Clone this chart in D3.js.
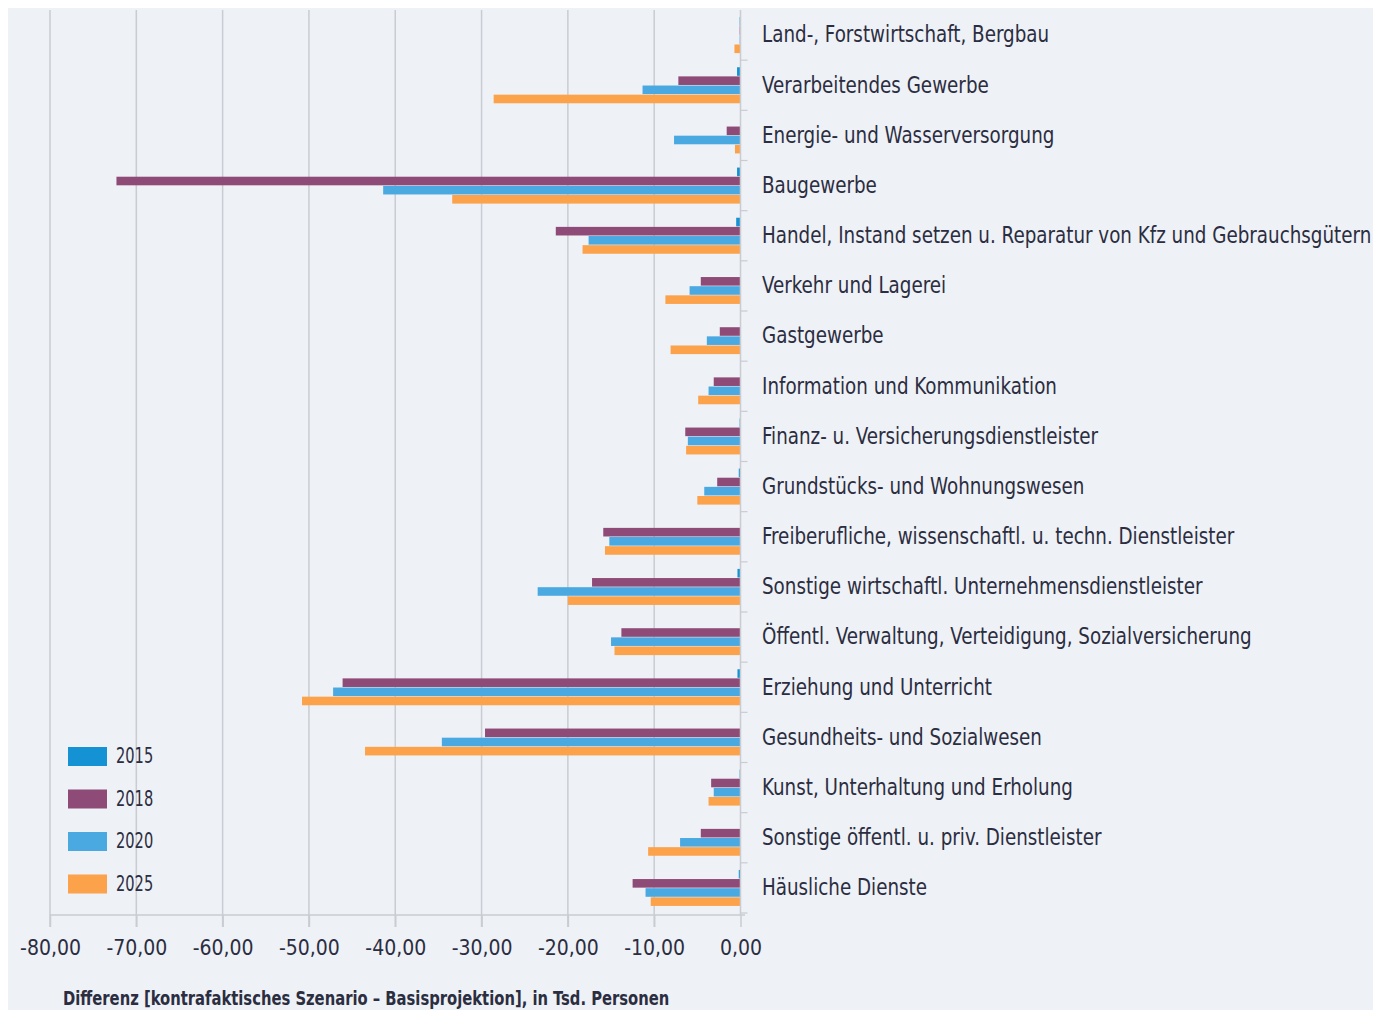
<!DOCTYPE html>
<html>
<head>
<meta charset="utf-8">
<script src="https://cdn.jsdelivr.net/npm/d3@7"></script>
<style>
  html, body { margin: 0; padding: 0; background: #ffffff; }
  svg { display: block; }
  text { font-family: "DejaVu Sans Condensed", "DejaVu Sans", sans-serif; fill: #2b2d40; }
</style>
</head>
<body>
<script>
const categories = [
  "Land-, Forstwirtschaft, Bergbau",
  "Verarbeitendes Gewerbe",
  "Energie- und Wasserversorgung",
  "Baugewerbe",
  "Handel, Instand setzen u. Reparatur von Kfz und Gebrauchsgütern",
  "Verkehr und Lagerei",
  "Gastgewerbe",
  "Information und Kommunikation",
  "Finanz- u. Versicherungsdienstleister",
  "Grundstücks- und Wohnungswesen",
  "Freiberufliche, wissenschaftl. u. techn. Dienstleister",
  "Sonstige wirtschaftl. Unternehmensdienstleister",
  "Öffentl. Verwaltung, Verteidigung, Sozialversicherung",
  "Erziehung und Unterricht",
  "Gesundheits- und Sozialwesen",
  "Kunst, Unterhaltung und Erholung",
  "Sonstige öffentl. u. priv. Dienstleister",
  "Häusliche Dienste"
];
const seriesNames = ["2015", "2018", "2020", "2025"];
const values2015 = [-0.1, -0.4, 0, -0.4, -0.5, 0, 0, 0, -0.1, -0.2, 0, -0.35, 0, -0.35, 0, -0.1, 0, -0.2];
const values2018 = [-0.1, -7.2, -1.6, -72.3, -21.4, -4.6, -2.4, -3.1, -6.4, -2.7, -15.9, -17.2, -13.8, -46.1, -29.6, -3.4, -4.6, -12.5];
const values2020 = [-0.1, -11.35, -7.7, -41.4, -17.6, -5.9, -3.9, -3.7, -6.1, -4.2, -15.2, -23.5, -15.0, -47.2, -34.6, -3.1, -7.0, -11.0];
const values2025 = [-0.7, -28.6, -0.64, -33.4, -18.3, -8.7, -8.1, -4.9, -6.3, -5.0, -15.7, -20.0, -14.6, -50.8, -43.5, -3.7, -10.7, -10.4];
const xTicks = [-80, -70, -60, -50, -40, -30, -20, -10, 0];
const axisTitle = "Differenz [kontrafaktisches Szenario – Basisprojektion], in Tsd. Personen";

const seriesValues = [values2015, values2018, values2020, values2025];
const colors = ["#1592d3", "#8f4b77", "#4ba9e2", "#fba24b"];

const W = 1375, H = 1010;
const svg = d3.select("body").append("svg").attr("width", W).attr("height", H);

// panel background
svg.append("rect").attr("x", 8).attr("y", 8).attr("width", W - 10).attr("height", H - 8).attr("fill", "#eef1f6");

const x = d3.scaleLinear().domain([-80, 0]).range([50, 740.5]);
const y = d3.scaleBand().domain(categories).range([10, 913]).paddingInner(0.26).paddingOuter(0.13);
const ySub = d3.scaleBand().domain(seriesNames).range([0, y.bandwidth()]).padding(0.06);

// grid lines
svg.append("g").selectAll("line").data(xTicks.filter(d => d !== 0)).join("line")
  .attr("x1", d => x(d)).attr("x2", d => x(d))
  .attr("y1", 10).attr("y2", 927)
  .attr("stroke", "#c9ccd2").attr("stroke-width", 1.5);

// bars
const g = svg.append("g");
seriesNames.forEach((s, si) => {
  g.append("g").selectAll("rect").data(categories).join("rect")
    .attr("x", (c, i) => x(Math.min(0, seriesValues[si][i])))
    .attr("width", (c, i) => Math.abs(x(seriesValues[si][i]) - x(0)))
    .attr("y", c => y(c) + ySub(s))
    .attr("height", ySub.bandwidth())
    .attr("fill", colors[si]);
});

// x axis
const xAxis = d3.axisBottom(x).tickValues(xTicks).tickSize(12)
  .tickFormat(d => d3.format(".2f")(d).replace(".", ",").replace("−", "-"));
const ax = svg.append("g").attr("transform", "translate(0,915)").call(xAxis);
ax.select(".domain").attr("stroke", "#c9ccd2").attr("stroke-width", 1.5).attr("d", "M50,0H745");
ax.selectAll(".tick line").attr("stroke", "#c9ccd2").attr("stroke-width", 1.5);
ax.selectAll(".tick text").attr("dy", 0).attr("y", 40)
  .style("font-size", "21px").style("font-family", "'DejaVu Sans Condensed', sans-serif").attr("fill", "#2b2d40");

// zero axis line with category ticks
svg.append("line").attr("x1", x(0)).attr("x2", x(0)).attr("y1", 10).attr("y2", 915)
  .attr("stroke", "#c9ccd2").attr("stroke-width", 1.5);
const boundaries = categories.map(c => y(c) - y.step() * y.paddingInner() / 2).slice(1).concat([913]);
svg.append("g").selectAll("line").data(boundaries).join("line")
  .attr("x1", x(0)).attr("x2", x(0) + 7).attr("y1", d => d).attr("y2", d => d)
  .attr("stroke", "#c9ccd2").attr("stroke-width", 1.2);

// category labels (horizontally condensed)
svg.append("g").selectAll("text").data(categories).join("text")
  .attr("transform", c => `translate(762,${y(c) + y.bandwidth() / 2 + 1}) scale(0.885,1)`)
  .attr("dominant-baseline", "middle")
  .style("font-size", "23px")
  .text(c => c);

// legend
const lg = svg.append("g");
seriesNames.forEach((s, i) => {
  const yy = 747 + i * 42.5;
  lg.append("rect").attr("x", 68).attr("y", yy).attr("width", 39).attr("height", 19).attr("fill", colors[i]);
  lg.append("text").attr("transform", `translate(116,${yy + 10}) scale(0.74,1)`).attr("dominant-baseline", "middle")
    .style("font-size", "22px").text(s);
});

// axis title
svg.append("text").attr("transform", "translate(63,1005) scale(0.865,1)")
  .style("font-size", "19px").style("font-weight", "bold")
  .text(axisTitle);
</script>
</body>
</html>
